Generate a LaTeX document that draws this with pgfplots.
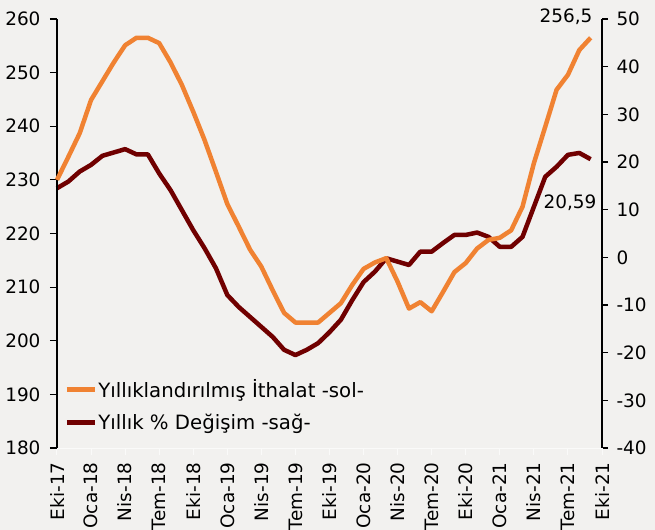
\documentclass[border=0pt]{standalone}
\usepackage{pgfplots}
\pgfplotsset{compat=1.18}
\usepackage{fontspec}
\setmainfont{DejaVu Sans}
\definecolor{bg}{HTML}{F2F1EF}
\definecolor{org}{HTML}{F08232}
\definecolor{dred}{HTML}{700000}
\definecolor{faint}{HTML}{FAFAF9}
\newcommand{\fs}{\fontsize{18.5}{22}\selectfont}
\newcommand{\fl}{\fontsize{19.8}{23}\selectfont}
\begin{document}
\begin{tikzpicture}
\path[use as bounding box, fill=bg] (-57bp,-82bp) rectangle (598bp,448bp);
% right axis: yearly % change
\begin{axis}[
  scale only axis, width=545bp, height=429bp,
  xmin=0, xmax=48, ymin=-40, ymax=50,
  axis x line=none, axis y line*=right,
  ytick={-40,-30,...,50},
  y axis line style={black, line width=1.2bp, -},
  ytick style={black, line width=1.2bp},
  tick align=outside, major tick length=6bp,
  yticklabel style={font=\fs, xshift=5bp},
  /pgf/number format/assume math mode=true,
  clip=false,
]
\addplot[dred, line width=4.5bp, line join=round] coordinates {
(0,14.5)(1,15.9)(2,18)(3,19.4)(4,21.3)(5,22)(6,22.7)(7,21.6)(8,21.6)(9,17.6)
(10,14.1)(11,9.9)(12,5.7)(13,1.9)(14,-2.3)(15,-7.9)(16,-10.4)(17,-12.5)(18,-14.6)(19,-16.7)
(20,-19.4)(21,-20.5)(22,-19.4)(23,-18)(24,-15.7)(25,-13.1)(26,-9)(27,-5.2)(28,-3)(29,-0.2)
(30,-0.9)(31,-1.6)(32,1.2)(33,1.2)(34,3)(35,4.7)(36,4.7)(37,5.2)(38,4.3)(39,2.2)
(40,2.2)(41,4.3)(42,10.6)(43,16.9)(44,19)(45,21.5)(46,21.9)(47,20.59)};
\node[anchor=base east, inner sep=0pt, font=\fs] at ([xshift=6bp,yshift=-49bp]axis cs:47,20.59) {20,59};
\end{axis}
% left axis: annualized imports
\begin{axis}[
  scale only axis, width=545bp, height=429bp,
  xmin=0, xmax=48, ymin=180, ymax=260,
  axis y line*=left, axis x line*=bottom,
  ytick={180,190,...,260},
  xtick={0,3,...,48},
  xticklabels={Eki-17,Oca-18,Nis-18,Tem-18,Eki-18,Oca-19,Nis-19,Tem-19,Eki-19,Oca-20,Nis-20,Tem-20,Eki-20,Oca-21,Nis-21,Tem-21,Eki-21},
  xticklabel style={rotate=90, anchor=east, font=\fs, xshift=-4bp},
  yticklabel style={font=\fs, xshift=-6bp},
  x axis line style={faint, line width=1bp, -},
  xtick style={faint, line width=1bp},
  y axis line style={black, line width=1.2bp, -},
  ytick style={black, line width=1.2bp},
  tick align=outside, major tick length=7bp,
  /pgf/number format/assume math mode=true,
  clip=false,
  legend style={draw=none, fill=none, at={(0.013,0.163)}, anchor=north west,
    font=\fl, row sep=13bp, inner sep=0pt, nodes={inner sep=1bp},
    /tikz/every even column/.append style={column sep=12bp}},
  legend cell align=left,
  legend image code/.code={\draw[#1, line width=5bp] (0bp,0bp) -- (28bp,0bp);},
]
\addplot[org, line width=4.5bp, line join=round] coordinates {
(0,230)(1,234.3)(2,238.7)(3,244.9)(4,248.4)(5,251.9)(6,255.1)(7,256.5)(8,256.5)(9,255.5)
(10,251.9)(11,247.7)(12,242.7)(13,237.4)(14,231.5)(15,225.5)(16,221.3)(17,217)(18,213.8)(19,209.4)
(20,205.2)(21,203.4)(22,203.4)(23,203.4)(24,205.2)(25,207)(26,210.4)(27,213.4)(28,214.6)(29,215.4)
(30,211)(31,206)(32,207.2)(33,205.5)(34,209.1)(35,212.8)(36,214.5)(37,217.2)(38,218.8)(39,219.2)
(40,220.6)(41,225)(42,233.1)(43,239.9)(44,246.8)(45,249.6)(46,254.2)(47,256.5)};
\addlegendentry{Yıllıklandırılmış İthalat -sol-}
\addlegendimage{dred, line width=5bp}
\addlegendentry{Yıllık \% Değişim -sağ-}
\node[anchor=base east, inner sep=0pt, font=\fs] at ([xshift=2bp,yshift=15bp]axis cs:47,256.5) {256,5};
\end{axis}
\end{tikzpicture}
\end{document}
